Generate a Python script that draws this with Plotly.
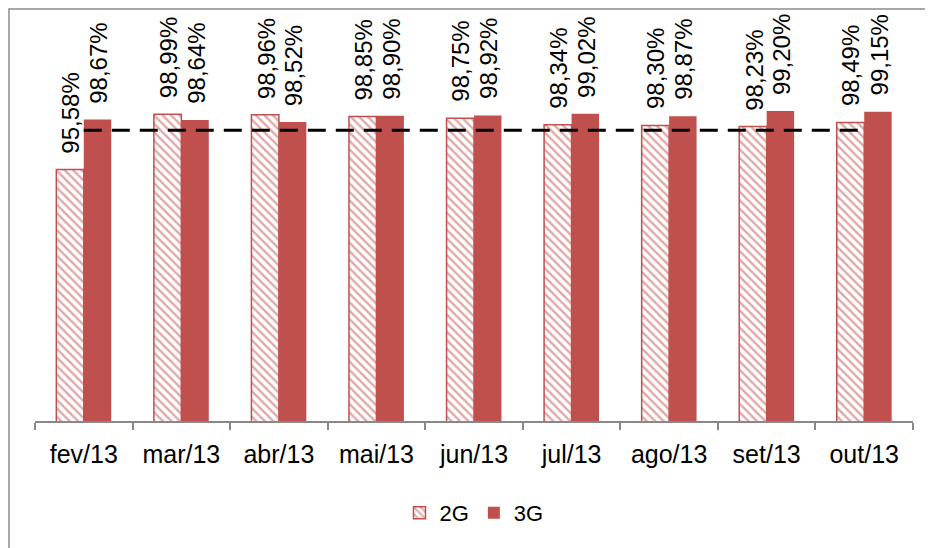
import plotly.graph_objects as go

months = ["fev/13", "mar/13", "abr/13", "mai/13", "jun/13", "jul/13", "ago/13", "set/13", "out/13"]
v2g = [95.58, 98.99, 98.96, 98.85, 98.75, 98.34, 98.30, 98.23, 98.49]
v3g = [98.67, 98.64, 98.52, 98.90, 98.92, 99.02, 98.87, 99.20, 99.15]
TARGET = 98.0
target = [TARGET] * len(months)

RED = "#C0504D"
FONT = "Liberation Sans, Arial, sans-serif"

fig = go.Figure()
fig.add_bar(
    x=months, y=v2g, name="2G",
    marker=dict(color="white", line=dict(color=RED, width=1.5),
                pattern=dict(shape="\\", fgcolor=RED, bgcolor="white", size=6, solidity=0.4)),
)
fig.add_bar(
    x=months, y=v3g, name="3G",
    marker=dict(color=RED, line=dict(width=0)),
)
fig.add_scatter(
    x=months, y=target, mode="lines", showlegend=False,
    line=dict(color="black", width=3, dash="18px,10px"),
)

annotations = []
for m, a, b in zip(months, v2g, v3g):
    for val, shift in ((a, -13), (b, 15)):
        annotations.append(dict(
            x=m, y=val, xref="x", yref="y", text=f"{val:.2f}%".replace(".", ","),
            textangle=-90, showarrow=False, xanchor="center", yanchor="bottom",
            xshift=shift, yshift=14, font=dict(family=FONT, size=24, color="black"),
        ))

# page has an 8px body margin: figure coords = page coords - 8
OFF = 8
W, H = 933, 548
L, R, T = 35 - OFF, 933 - (913 - OFF), 98 - OFF
B = H - (421 - OFF)
pw, ph = W - L - R, H - T - B

fig.update_layout(
    width=W, height=H,
    margin=dict(l=L, r=R, t=T, b=B, pad=0),
    paper_bgcolor="white", plot_bgcolor="white",
    separators=",.",
    bargap=0.437, bargroupgap=0,
    font=dict(family=FONT, color="black"),
    xaxis=dict(showline=True, linecolor="#888888", linewidth=1.5, ticks="outside",
               ticklen=7, tickwidth=1.5, tickcolor="#888888", tickson="boundaries",
               ticklabelstandoff=10,
               showgrid=False, tickfont=dict(size=25, family=FONT, color="black")),
    yaxis=dict(range=[80, 100], visible=False, showgrid=False),
    legend=dict(orientation="h", x=0.5, xanchor="center", y=-(513 - 421) / ph,
                yanchor="middle", font=dict(size=22, family=FONT), traceorder="normal"),
    annotations=annotations,
    shapes=[dict(type="rect", xref="paper", yref="paper",
                 x0=(1 - L) / pw, x1=(W + 10 - L) / pw,
                 y0=-(H + 10 - (H - B)) / ph, y1=1 + (T - 1) / ph,
                 line=dict(color="#8C8C8C", width=1.5), layer="below")],
)

fig.write_html("out.html")
